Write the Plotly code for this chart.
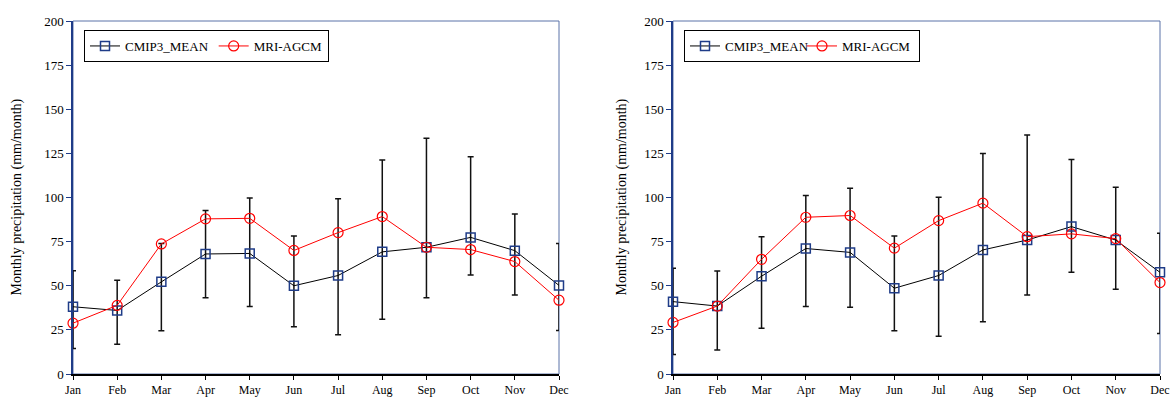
import plotly.graph_objects as go

months = ["Jan", "Feb", "Mar", "Apr", "May", "Jun", "Jul", "Aug", "Sep", "Oct", "Nov", "Dec"]
y_ticks = [0, 25, 50, 75, 100, 125, 150, 175, 200]

# Left panel
left_cmip3 = [38.1, 36.0, 52.2, 68.0, 68.3, 50.0, 55.8, 69.2, 71.8, 77.4, 69.9, 50.2]
left_mri = [28.8, 38.9, 73.7, 87.9, 88.2, 70.0, 80.1, 89.2, 71.8, 70.5, 63.7, 41.8]
left_err_high = [58.5, 53.1, 74.0, 92.6, 99.7, 78.2, 99.3, 121.2, 133.5, 123.1, 90.7, 74.0]
left_err_low = [14.4, 16.8, 24.5, 43.2, 38.3, 26.8, 22.3, 31.0, 43.2, 56.1, 44.8, 24.7]

# Right panel
right_cmip3 = [41.0, 38.5, 55.4, 71.1, 68.9, 48.6, 55.8, 70.3, 75.9, 83.5, 75.9, 57.6]
right_mri = [29.2, 38.5, 65.0, 88.8, 89.8, 71.3, 86.9, 96.8, 77.8, 79.4, 76.7, 51.8]
right_err_high = [59.9, 58.4, 77.8, 101.2, 105.2, 78.2, 100.1, 125.0, 135.4, 121.6, 105.8, 79.7]
right_err_low = [11.1, 13.6, 25.9, 38.3, 37.8, 24.5, 21.4, 29.6, 44.8, 57.6, 48.0, 23.0]

W, H = 1171, 397
FONT = "'Liberation Serif', 'Times New Roman', Times, serif"
NAVY = "#1F3C88"
BORDER = "#5B73A8"

xs = list(range(len(months)))

fig = go.Figure()


def add_panel(xa, ya, legend, cmip, mri, hi, lo):
    fig.add_trace(go.Scatter(
        x=xs, y=cmip, name="CMIP3_MEAN", mode="lines+markers",
        xaxis=xa, yaxis=ya, legend=legend, cliponaxis=False,
        line=dict(color="black", width=1),
        marker=dict(symbol="square-open", size=9, color=NAVY, line=dict(width=1.5, color=NAVY)),
        error_y=dict(type="data", symmetric=False,
                     array=[h - m for h, m in zip(hi, cmip)],
                     arrayminus=[m - l for m, l in zip(cmip, lo)],
                     color="#111111", thickness=1.5, width=3),
    ))
    fig.add_trace(go.Scatter(
        x=xs, y=mri, name="MRI-AGCM", mode="lines+markers",
        xaxis=xa, yaxis=ya, legend=legend, cliponaxis=False,
        line=dict(color="#FF0000", width=1),
        marker=dict(symbol="circle-open", size=10, color="#FF0000", line=dict(width=1.2, color="#FF0000")),
    ))


add_panel("x", "y", "legend", left_cmip3, left_mri, left_err_high, left_err_low)
add_panel("x2", "y2", "legend2", right_cmip3, right_mri, right_err_high, right_err_low)

ydom = [1 - 374 / H, 1 - 21 / H]
xdom1 = [73 / W, 559 / W]
xdom2 = [673 / W, 1160 / W]

xaxis_common = dict(
    range=[0, 11], tickmode="array", tickvals=xs, ticktext=months,
    showline=True, linecolor="black", linewidth=1.5,
    ticks="outside", ticklen=4, tickcolor="black", tickwidth=1,
    showgrid=False, zeroline=False, automargin=False,
    tickfont=dict(family=FONT, size=12, color="black"),
)
yaxis_common = dict(
    range=[0, 200], tickmode="array", tickvals=y_ticks,
    showline=True, linecolor=NAVY, linewidth=1.5,
    ticks="outside", ticklen=5, tickcolor=NAVY, tickwidth=1,
    showgrid=False, zeroline=False, automargin=False,
    tickfont=dict(family=FONT, size=13, color="black"),
)

legend_common = dict(
    orientation="h", bordercolor="black", borderwidth=1, bgcolor="white",
    font=dict(family=FONT, size=13, color="black"),
    xanchor="left", yanchor="top", itemwidth=30,
)

fig.update_layout(
    width=W, height=H,
    margin=dict(l=0, r=0, t=0, b=0, autoexpand=False),
    paper_bgcolor="white", plot_bgcolor="white",
    font=dict(family=FONT),
    xaxis=dict(domain=xdom1, anchor="y", **xaxis_common),
    yaxis=dict(domain=ydom, anchor="x", **yaxis_common),
    xaxis2=dict(domain=xdom2, anchor="y2", **xaxis_common),
    yaxis2=dict(domain=ydom, anchor="x2", **yaxis_common),
    legend=dict(x=84 / W, y=1 - 30 / H, **legend_common),
    legend2=dict(x=684 / W, y=1 - 30 / H, entrywidth=72, entrywidthmode="pixels", **legend_common),
    shapes=[
        dict(type="rect", xref="x domain", yref="y domain", x0=0, x1=1, y0=0, y1=1,
             line=dict(color=BORDER, width=1), layer="below"),
        dict(type="rect", xref="x2 domain", yref="y2 domain", x0=0, x1=1, y0=0, y1=1,
             line=dict(color=BORDER, width=1), layer="below"),
    ],
    annotations=[
        dict(text="Monthly precipitation (mm/month)", textangle=-90, xref="paper", yref="paper",
             x=17 / W, y=(ydom[0] + ydom[1]) / 2, xanchor="center", yanchor="middle",
             showarrow=False, font=dict(family=FONT, size=14, color="black")),
        dict(text="Monthly precipitation (mm/month)", textangle=-90, xref="paper", yref="paper",
             x=622 / W, y=(ydom[0] + ydom[1]) / 2, xanchor="center", yanchor="middle",
             showarrow=False, font=dict(family=FONT, size=14, color="black")),
    ],
)

fig.write_html("out.html")
